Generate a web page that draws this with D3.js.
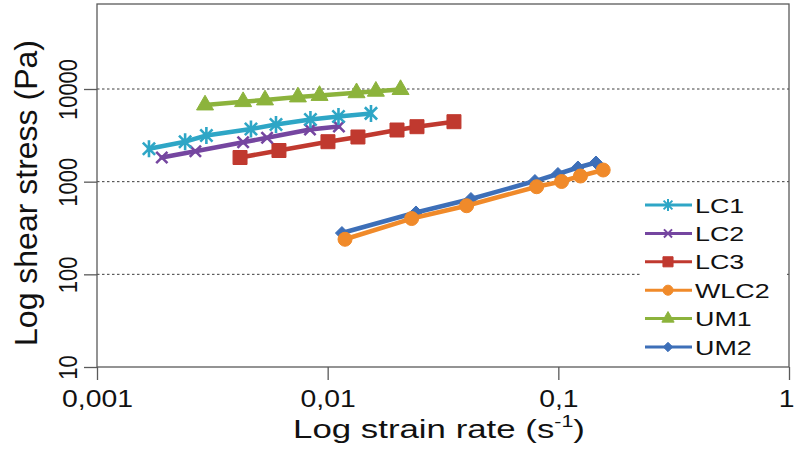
<!DOCTYPE html>
<html>
<head>
<meta charset="utf-8">
<script src="https://cdn.jsdelivr.net/npm/d3@7"></script>
<style>
  html, body { margin: 0; padding: 0; background: #ffffff; }
  svg { display: block; font-family: "Liberation Sans", Arial, sans-serif; }
</style>
</head>
<body>
<svg id="chart" width="795" height="452"></svg>
<script>
// Flow curves: shear stress (Pa) against strain rate (1/s), log-log
const seriesNames = ["LC1", "LC2", "LC3", "WLC2", "UM1", "UM2"];

const lc1Rate   = [0.00168, 0.00241, 0.00298, 0.00465, 0.00597, 0.00842, 0.01114, 0.01541];
const lc1Stress = [2268, 2699, 3148, 3700, 4140, 4688, 5047, 5454];

const lc2Rate   = [0.00191, 0.00267, 0.00430, 0.00546, 0.00838, 0.01119];
const lc2Stress = [1823, 2126, 2659, 2973, 3656, 3937];

const lc3Rate   = [0.00417, 0.00615, 0.01003, 0.01353, 0.01998, 0.02439, 0.03528];
const lc3Stress = [1823, 2169, 2699, 3034, 3610, 3919, 4437];

const wlc2Rate   = [0.01189, 0.02312, 0.04003, 0.08054, 0.1033, 0.1247, 0.1565];
const wlc2Stress = [239, 400, 550, 882, 1004, 1151, 1336];

const um1Rate   = [0.00294, 0.00430, 0.00535, 0.00743, 0.00922, 0.01334, 0.01618, 0.02070];
const um1Stress = [6714, 7295, 7606, 8200, 8506, 9097, 9443, 9848];

const um2Rate   = [0.01153, 0.02415, 0.04180, 0.07918, 0.09961, 0.1216, 0.1456];
const um2Stress = [279, 465, 650, 1016, 1210, 1422, 1610];

const xTickValues = [0.001, 0.01, 0.1, 1];
const xTickLabels = ["0,001", "0,01", "0,1", "1"];
const yTickValues = [10, 100, 1000, 10000];
const yTickLabels = ["10", "100", "1000", "10000"];

const colors = {
  LC1: "#2ea6c6", LC2: "#7546a0", LC3: "#c0392f",
  WLC2: "#f08a2a", UM1: "#8cb33c", UM2: "#3d6fb8"
};
const markers = { LC1: "asterisk", LC2: "times", LC3: "square", WLC2: "circle", UM1: "triangle", UM2: "diamond" };

const series = [
  { name: "LC1",  rate: lc1Rate,  stress: lc1Stress },
  { name: "LC2",  rate: lc2Rate,  stress: lc2Stress },
  { name: "LC3",  rate: lc3Rate,  stress: lc3Stress },
  { name: "WLC2", rate: wlc2Rate, stress: wlc2Stress },
  { name: "UM1",  rate: um1Rate,  stress: um1Stress },
  { name: "UM2",  rate: um2Rate,  stress: um2Stress }
].map(s => ({ name: s.name, points: s.rate.map((r, i) => ({ x: r, y: s.stress[i] })) }));

// Layout
const plot = { left: 97, right: 789, top: 4, bottom: 367 };
const svg = d3.select("#chart");

const x = d3.scaleLog().domain([0.001, 1]).range([plot.left, plot.right]);
const y = d3.scaleLog().domain([10, 10000]).range([plot.bottom, 89]);

const axisColor = "#5a5a5a";

// Horizontal dotted grid
svg.append("g").selectAll("line")
  .data(yTickValues.filter(v => v > 10))
  .join("line")
  .attr("x1", plot.left).attr("x2", plot.right)
  .attr("y1", d => y(d)).attr("y2", d => y(d))
  .attr("stroke", "#3c3c3c").attr("stroke-width", 1)
  .attr("stroke-dasharray", "2.5,2.5");

// Frame
svg.append("rect")
  .attr("x", plot.left).attr("y", plot.top)
  .attr("width", plot.right - plot.left).attr("height", plot.bottom - plot.top)
  .attr("fill", "none").attr("stroke", axisColor).attr("stroke-width", 1.3);

// Y axis: ticks and vertically set labels
const yAxis = svg.append("g")
  .attr("transform", `translate(${plot.left},0)`)
  .call(d3.axisLeft(y).tickValues(yTickValues).tickSize(13).tickSizeOuter(0)
    .tickFormat((d, i) => yTickLabels[i]));
yAxis.select(".domain").remove();
yAxis.selectAll(".tick line").attr("stroke", axisColor).attr("stroke-width", 1.3);
yAxis.selectAll(".tick text")
  .attr("x", null).attr("dy", null)
  .attr("fill", "#111").attr("font-size", 22)
  .attr("font-family", "Liberation Sans, Arial, sans-serif")
  .attr("text-anchor", "middle")
  .attr("transform", "translate(-20,0) scale(1.2,1) rotate(-90)");

// X axis
const xAxis = svg.append("g")
  .attr("transform", `translate(0,${plot.bottom})`)
  .call(d3.axisBottom(x).tickValues(xTickValues).tickSize(13).tickSizeOuter(0)
    .tickFormat((d, i) => xTickLabels[i]));
xAxis.select(".domain").remove();
xAxis.selectAll(".tick line").attr("stroke", axisColor).attr("stroke-width", 1.3);
xAxis.selectAll(".tick text")
  .attr("y", null).attr("dy", null)
  .attr("fill", "#111").attr("font-size", 24)
  .attr("font-family", "Liberation Sans, Arial, sans-serif")
  .attr("text-anchor", "middle")
  .attr("transform", "translate(0,40) scale(1.18,1)");
// The last label sits at the page edge; keep it inside the page
xAxis.selectAll(".tick text")
  .filter(d => d === 1)
  .attr("text-anchor", "end")
  .attr("transform", "translate(5,40) scale(1.18,1)");

// Marker paths, centred on the origin
function markerPath(kind, s) {
  const r = s / 2;
  switch (kind) {
    case "asterisk": {
      const d = r * 0.72;
      return `M${-d},${-d}L${d},${d}M${-d},${d}L${d},${-d}M0,${-r}L0,${r}`;
    }
    case "times": {
      const d = r * 0.75;
      return `M${-d},${-d}L${d},${d}M${-d},${d}L${d},${-d}`;
    }
    case "square":
      return `M${-r},${-r}H${r}V${r}H${-r}Z`;
    case "circle":
      return `M${r},0A${r},${r} 0 1,1 ${-r},0A${r},${r} 0 1,1 ${r},0Z`;
    case "triangle": {
      const h = s * Math.sqrt(3) / 2;
      return `M0,${-h * 2 / 3}L${r},${h / 3}L${-r},${h / 3}Z`;
    }
    case "diamond":
      return `M0,${-r}L${r},0L0,${r}L${-r},0Z`;
  }
}
const markerSize = { asterisk: 17, times: 15, square: 14, circle: 14, triangle: 17, diamond: 13 };
const strokeMarker = k => k === "asterisk" || k === "times";

const line = d3.line().x(d => x(d.x)).y(d => y(d.y));

// Draw back to front so LC1 sits on top
const drawOrder = ["UM2", "WLC2", "UM1", "LC3", "LC2", "LC1"];
drawOrder.forEach(name => {
  const s = series.find(v => v.name === name);
  const c = colors[name], k = markers[name];
  const g = svg.append("g");
  g.append("path").datum(s.points)
    .attr("d", line).attr("fill", "none")
    .attr("stroke", c).attr("stroke-width", 4.5)
    .attr("stroke-linejoin", "round").attr("stroke-linecap", "round");
  g.selectAll("path.mk").data(s.points).join("path")
    .attr("class", "mk")
    .attr("transform", d => `translate(${x(d.x)},${y(d.y)})`)
    .attr("d", markerPath(k, markerSize[k]))
    .attr("fill", strokeMarker(k) ? "none" : c)
    .attr("stroke", c)
    .attr("stroke-width", strokeMarker(k) ? 2.6 : 1);
});

// Legend
const legend = svg.append("g");
legend.append("rect")
  .attr("x", 640).attr("y", 190).attr("width", 146).attr("height", 172)
  .attr("fill", "#ffffff");
const legendRowY = d3.scalePoint().domain(seriesNames).range([205, 347]);
seriesNames.forEach(name => {
  const c = colors[name], k = markers[name];
  const cy = legendRowY(name);
  const row = legend.append("g");
  row.append("line")
    .attr("x1", 645).attr("x2", 692).attr("y1", cy).attr("y2", cy)
    .attr("stroke", c).attr("stroke-width", 3);
  row.append("path")
    .attr("transform", `translate(668,${cy})`)
    .attr("d", markerPath(k, markerSize[k] * 0.72))
    .attr("fill", strokeMarker(k) ? "none" : c)
    .attr("stroke", c)
    .attr("stroke-width", strokeMarker(k) ? 2 : 1);
  row.append("text")
    .attr("transform", `translate(695,${cy + 7.5}) scale(1.28,1)`)
    .attr("font-size", 21).attr("fill", "#111")
    .text(name);
});

// Axis titles
svg.append("text")
  .attr("transform", `translate(37,${(38 + 348) / 2}) rotate(-90)`)
  .attr("text-anchor", "middle")
  .attr("font-size", 32).attr("fill", "#111")
  .text("Log shear stress (Pa)");

const xTitle = svg.append("text")
  .attr("text-anchor", "middle")
  .attr("font-size", 26).attr("fill", "#111");
xTitle.append("tspan").text("Log strain rate (s");
xTitle.append("tspan").attr("font-size", 16).attr("dy", -11).text("-1");
xTitle.append("tspan").attr("dy", 11).text(")");
const natural = xTitle.node().getComputedTextLength();
xTitle.attr("transform", `translate(439,438) scale(${292 / natural},1)`);
</script>
</body>
</html>
